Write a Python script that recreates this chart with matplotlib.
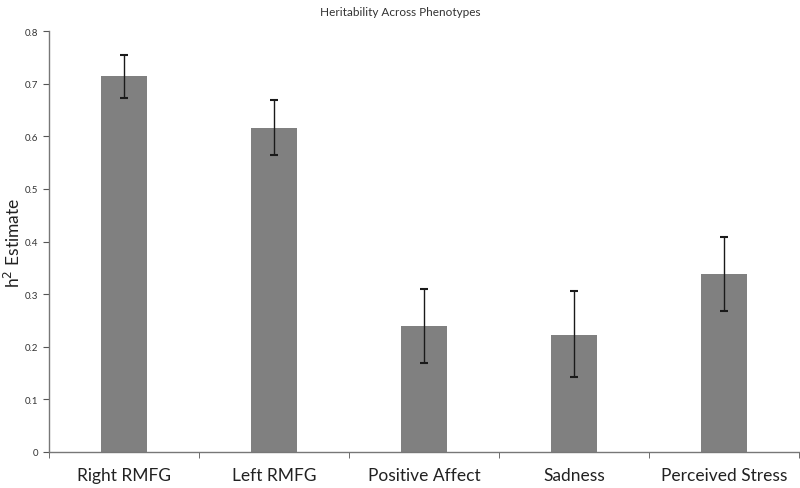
import matplotlib
matplotlib.use("Agg")
import matplotlib.pyplot as plt
import numpy as np

categories = ["Right RMFG", "Left RMFG", "Positive Affect", "Sadness", "Perceived Stress"]
estimates = [0.714, 0.615, 0.239, 0.222, 0.338]
err_upper = [0.754, 0.668, 0.309, 0.306, 0.408]
err_lower = [0.673, 0.565, 0.169, 0.143, 0.267]
yticks = [0, 0.1, 0.2, 0.3, 0.4, 0.5, 0.6, 0.7, 0.8]
ytick_labels = ["0", "0.1", "0.2", "0.3", "0.4", "0.5", "0.6", "0.7", "0.8"]

plt.rcParams['font.family'] = ['Lato', 'DejaVu Sans']

fig = plt.figure(figsize=(8, 4.89), dpi=100)
ax = fig.add_axes([49/800, 1-453/489, 750/800, (453-32)/489])

x = np.arange(len(categories))
est = np.array(estimates)
yerr = np.vstack([est - np.array(err_lower), np.array(err_upper) - est])
ax.bar(x, est, width=0.31, color="#808080", zorder=2)
ax.errorbar(x, est, yerr=yerr, fmt="none", ecolor="#1a1a1a", elinewidth=1.0,
            capsize=2.6, capthick=1.5, zorder=3)

ax.set_xlim(-0.5, len(categories) - 0.5)
ax.set_ylim(0, 0.8)
ax.set_yticks(yticks)
ax.set_yticklabels(ytick_labels, fontsize=7, color="#333333")
ax.set_xticks(x)
ax.set_xticklabels(categories, fontsize=12.5, color="#222222")
ax.set_xticks(np.arange(-0.5, len(categories)), minor=True)
ax.tick_params(axis="x", which="major", length=0, pad=11)
ax.tick_params(axis="x", which="minor", length=4, color="#555555", direction="out")
ax.tick_params(axis="y", length=4, color="#555555", direction="out", pad=4)

for s in ["top", "right"]:
    ax.spines[s].set_visible(False)
for s in ["left", "bottom"]:
    ax.spines[s].set_color("#777777")
    ax.spines[s].set_linewidth(1.0)

fig.text(13/800, 1 - 243/489, "h$^{2}$ Estimate", rotation=90, ha="center", va="center",
         fontsize=12.5, color="#222222")
fig.text(0.5, 1 - 12/489, "Heritability Across Phenotypes", ha="center", va="center",
         fontsize=8.5, color="#333333")

fig.savefig("out.png", dpi=100)
